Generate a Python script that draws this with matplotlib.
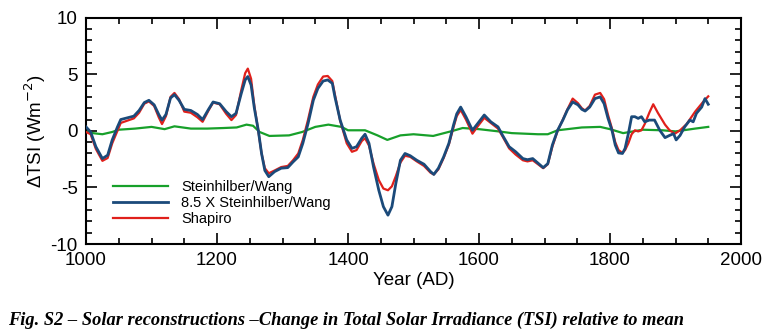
import matplotlib.pyplot as plt
from matplotlib.ticker import MultipleLocator

plt.rcParams['font.family'] = ['Liberation Sans', 'DejaVu Sans']
plt.rcParams['axes.unicode_minus'] = False

# 8.5 x Steinhilber/Wang (blue)
blue_years = [1000, 1007, 1015, 1025, 1033, 1040, 1048, 1053, 1063, 1073, 1081, 1089, 1096,
              1104, 1111, 1116, 1122, 1129, 1135, 1142, 1150, 1160, 1170, 1178, 1187, 1194,
              1204, 1214, 1222, 1229, 1237, 1243, 1247, 1252, 1257, 1263, 1268, 1273, 1279,
              1288, 1298, 1308, 1316, 1324, 1331, 1339, 1347, 1354, 1362, 1369, 1376, 1380,
              1388, 1398, 1406, 1413, 1421, 1426, 1432, 1439, 1447, 1454, 1461, 1467, 1473,
              1480, 1487, 1495, 1505, 1516, 1526, 1531, 1538, 1546, 1554, 1561, 1566, 1572,
              1580, 1590, 1598, 1608, 1618, 1629, 1636, 1646, 1656, 1667, 1674, 1682, 1690,
              1698, 1705, 1712, 1720, 1728, 1735, 1743, 1751, 1757, 1762, 1769, 1777, 1785,
              1791, 1797, 1803, 1808, 1813, 1819, 1823, 1828, 1833, 1838, 1843, 1848, 1853,
              1860, 1868, 1876, 1884, 1891, 1897, 1901, 1907, 1914, 1922, 1927, 1932, 1940,
              1945, 1950]
blue_vals = [0.35, -0.1, -1.4, -2.45, -2.15, -0.8, 0.35, 1.0, 1.15, 1.3, 1.8, 2.5, 2.7,
             2.3, 1.45, 0.95, 1.45, 2.9, 3.2, 2.7, 1.9, 1.8, 1.45, 1.0, 1.9, 2.55,
             2.4, 1.7, 1.25, 1.55, 3.3, 4.5, 4.8, 4.05, 2.0, 0.05, -2.0, -3.5, -4.05,
             -3.6, -3.3, -3.25, -2.75, -2.3, -1.1, 0.65, 2.7, 3.75, 4.4, 4.5, 4.2, 3.0,
             0.95, -0.8, -1.55, -1.4, -0.65, -0.3, -1.1, -3.2, -5.25, -6.7, -7.45, -6.7, -4.65,
             -2.6, -2.0, -2.2, -2.6, -2.95, -3.6, -3.85, -3.3, -2.3, -1.1, 0.5, 1.5, 2.1,
             1.25, 0.05, 0.65, 1.4, 0.8, 0.35, -0.4, -1.4, -1.85, -2.45, -2.55, -2.45, -2.85,
             -3.25, -2.9, -1.25, 0.05, 0.95, 1.85, 2.55, 2.3, 1.9, 1.75, 2.1, 2.85, 3.0,
             2.4, 1.1, 0.05, -1.25, -1.95, -2.0, -1.55, -0.25, 1.25, 1.25, 1.1, 1.25, 0.8,
             0.95, 0.95, 0.05, -0.6, -0.4, -0.25, -0.8, -0.4, 0.35, 0.95, 0.8, 1.55, 2.1,
             2.85, 2.35]

# Shapiro (red)
red_years = [1000, 1007, 1015, 1025, 1033, 1040, 1048, 1053, 1063, 1073, 1081, 1089, 1096,
             1104, 1111, 1116, 1122, 1129, 1135, 1142, 1150, 1160, 1170, 1178, 1187, 1194,
             1204, 1214, 1222, 1229, 1237, 1243, 1247, 1252, 1257, 1263, 1268, 1273, 1279,
             1288, 1298, 1308, 1316, 1324, 1331, 1339, 1347, 1354, 1362, 1369, 1376, 1380,
             1388, 1398, 1406, 1413, 1421, 1426, 1432, 1439, 1447, 1454, 1461, 1467, 1473,
             1480, 1487, 1495, 1505, 1516, 1526, 1531, 1538, 1546, 1554, 1561, 1566, 1572,
             1580, 1590, 1598, 1608, 1618, 1629, 1636, 1646, 1656, 1667, 1674, 1682, 1690,
             1698, 1705, 1712, 1720, 1728, 1735, 1743, 1751, 1757, 1762, 1769, 1777, 1785,
             1791, 1797, 1803, 1808, 1813, 1819, 1823, 1828, 1833, 1838, 1843, 1848, 1853,
             1860, 1866, 1873, 1884, 1891, 1899, 1907, 1917, 1930, 1942, 1950]
red_vals = [-0.1, -0.3, -1.6, -2.65, -2.4, -1.1, 0.0, 0.7, 0.9, 1.1, 1.6, 2.4, 2.6,
            2.2, 1.2, 0.6, 1.3, 3.0, 3.35, 2.8, 1.7, 1.6, 1.2, 0.8, 1.8, 2.5,
            2.35, 1.5, 0.95, 1.4, 3.6, 5.1, 5.5, 4.6, 2.2, 0.0, -2.0, -3.3, -3.75,
            -3.5, -3.2, -3.1, -2.6, -2.0, -0.8, 1.0, 3.0, 4.1, 4.8, 4.85, 4.4, 3.2,
            0.9, -1.1, -1.85, -1.7, -0.9, -0.65, -1.3, -2.9, -4.35, -5.1, -5.25, -4.9, -4.0,
            -2.8, -2.2, -2.3, -2.7, -3.1, -3.7, -3.85, -3.4, -2.4, -1.2, 0.3, 1.3, 1.85,
            1.0, -0.25, 0.4, 1.15, 0.7, 0.2, -0.5, -1.55, -2.1, -2.6, -2.7, -2.6, -2.95,
            -3.3, -2.95, -1.4, 0.0, 1.0, 1.9, 2.85, 2.45, 2.0, 1.8, 2.2, 3.2, 3.35,
            2.8, 1.4, 0.2, -1.0, -1.7, -1.95, -1.7, -1.1, -0.3, 0.05, -0.05, 0.05, 0.6,
            1.6, 2.35, 1.6, 0.55, 0.05, -0.25, 0.05, 0.6, 1.7, 2.55, 3.05]

# Steinhilber/Wang (green)
green_years = [1000, 1010, 1025, 1040, 1050, 1075, 1100, 1120, 1135, 1160, 1185, 1210, 1230,
               1245, 1255, 1265, 1280, 1310, 1330, 1350, 1370, 1390, 1400, 1426, 1445, 1460,
               1480, 1500, 1530, 1560, 1575, 1600, 1630, 1650, 1690, 1705, 1720, 1757, 1785,
               1800, 1820, 1850, 1880, 1900, 1930, 1950]
green_vals = [0.05, -0.2, -0.3, -0.1, 0.1, 0.2, 0.35, 0.15, 0.4, 0.2, 0.2, 0.25, 0.3,
              0.55, 0.45, -0.1, -0.45, -0.4, -0.1, 0.35, 0.55, 0.35, 0.05, 0.05, -0.4, -0.8,
              -0.4, -0.3, -0.45, 0.0, 0.25, 0.15, -0.05, -0.2, -0.3, -0.3, 0.05, 0.3, 0.35,
              0.15, -0.2, 0.1, 0.05, -0.05, 0.2, 0.35]

fig = plt.figure(figsize=(7.73, 3.35), dpi=100)
ax = fig.add_axes([0.1113, 0.2716, 0.8473, 0.6756])

ax.plot(green_years, green_vals, color='#17a02a', lw=1.6, label='Steinhilber/Wang', zorder=2)
ax.plot(blue_years, blue_vals, color='#1b4a7a', lw=2.0, label='8.5 X Steinhilber/Wang', zorder=4)
ax.plot(red_years, red_vals, color='#e0201b', lw=1.6, label='Shapiro', zorder=3)

ax.set_xlim(1000, 2000)
ax.set_ylim(-10, 10)
ax.xaxis.set_major_locator(MultipleLocator(200))
ax.xaxis.set_minor_locator(MultipleLocator(50))
ax.yaxis.set_major_locator(MultipleLocator(5))
ax.yaxis.set_minor_locator(MultipleLocator(1))
ax.tick_params(which='both', direction='in', top=True, right=True, width=1.2, labelsize=13.5)
ax.tick_params(which='major', length=8, pad=6)
ax.tick_params(which='minor', length=4)
for s in ax.spines.values():
    s.set_linewidth(1.5)

ax.set_xlabel('Year (AD)', fontsize=13.5, labelpad=2)
ax.set_ylabel(r'ΔTSI (Wm$^{-2}$)', fontsize=13.5, labelpad=2)

ax.legend(loc='lower left', bbox_to_anchor=(0.025, 0.035), frameon=False, fontsize=10.5,
          handlelength=3.8, handletextpad=0.9, labelspacing=0.12, borderpad=0.2)

fig.text(0.01, 0.03, 'Fig. S2 – Solar reconstructions –Change in Total Solar Irradiance (TSI) relative to mean',
         family='Liberation Serif', style='italic', weight='bold', fontsize=13.2)

fig.savefig('out.png', dpi=100)
